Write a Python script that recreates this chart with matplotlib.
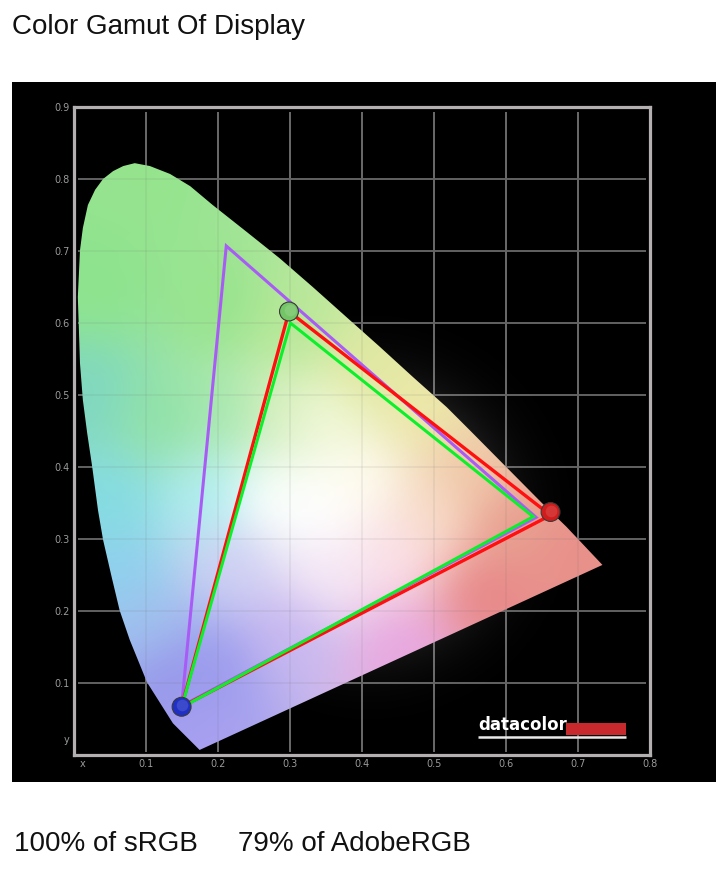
import numpy as np
import matplotlib
matplotlib.use("Agg")
import matplotlib.pyplot as plt
from matplotlib.colors import to_rgb
from matplotlib.patches import Polygon, Rectangle

W, H = 723, 873

locus_x = [0.175, 0.138, 0.102, 0.078, 0.064, 0.053, 0.041, 0.034, 0.026, 0.019, 0.013, 0.009, 0.006, 0.009, 0.013,
           0.020, 0.030, 0.041, 0.055, 0.069, 0.085, 0.106, 0.134, 0.162, 0.193, 0.241, 0.286, 0.332, 0.379,
           0.425, 0.471, 0.518, 0.550, 0.650, 0.684, 0.734]
locus_y = [0.007, 0.044, 0.101, 0.160, 0.201, 0.247, 0.299, 0.340, 0.400, 0.447, 0.493, 0.544, 0.636, 0.701, 0.732,
           0.764, 0.785, 0.800, 0.811, 0.818, 0.822, 0.818, 0.807, 0.790, 0.764, 0.726, 0.690, 0.650, 0.608,
           0.567, 0.525, 0.483, 0.451, 0.350, 0.317, 0.264]

adobe_x = [0.212, 0.642, 0.150]
adobe_y = [0.707, 0.330, 0.068]
srgb_x = [0.301, 0.638, 0.150]
srgb_y = [0.600, 0.331, 0.066]
display_x = [0.299, 0.662, 0.150]
display_y = [0.616, 0.333, 0.067]

marker_x = [0.299, 0.662, 0.150]
marker_y = [0.616, 0.3375, 0.067]
marker_colors = ["#74c566", "#d01c1c", "#2030c4"]

x_tick_pos = [0.012, 0.1, 0.2, 0.3, 0.4, 0.5, 0.6, 0.7, 0.8]
x_tick_labels = ["x", "0.1", "0.2", "0.3", "0.4", "0.5", "0.6", "0.7", "0.8"]
y_tick_pos = [0.022, 0.1, 0.2, 0.3, 0.4, 0.5, 0.6, 0.7, 0.8, 0.9]
y_tick_labels = ["y", "0.1", "0.2", "0.3", "0.4", "0.5", "0.6", "0.7", "0.8", "0.9"]

# colours read at places inside the horseshoe
wash_x = [0.085, 0.03, 0.20, 0.12, 0.02, 0.05, 0.06, 0.09, 0.13, 0.175, 0.19, 0.21, 0.28, 0.34, 0.27, 0.39, 0.48, 0.40,
          0.30, 0.35, 0.55, 0.60, 0.70, 0.57, 0.46, 0.30, 0.19, 0.22, 0.35, 0.45, 0.50]
wash_y = [0.79, 0.65, 0.62, 0.47, 0.50, 0.35, 0.25, 0.18, 0.10, 0.03, 0.355, 0.48, 0.48, 0.34, 0.35, 0.38, 0.483, 0.53,
          0.59, 0.47, 0.39, 0.32, 0.28, 0.225, 0.146, 0.17, 0.12, 0.27, 0.25, 0.28, 0.33]
wash_c = ["#96e48e", "#8ee48e", "#98e48e", "#92e2a8", "#80d8c0", "#85dce2", "#90d0ee", "#a0c0ee", "#9898ea", "#a8a0f0",
          "#b0eef0", "#a8e8b0", "#d8f0c0", "#ffffff", "#fbfffb", "#fffcf0", "#ece8a8", "#e0e8a0", "#b8e898", "#f0f8d8",
          "#f0c8a8", "#e8a090", "#e8908a", "#e88888", "#e8a8e0", "#c8b8f0", "#9c9cee", "#d0d0f4", "#f6e8f6", "#fbe0e8",
          "#f8dcc8"]

fig = plt.figure(figsize=(W / 100, H / 100), dpi=100, facecolor="white")
plt.rcParams["font.family"] = ["Liberation Sans", "DejaVu Sans"]

# black panel
panel = fig.add_axes([12 / W, 1 - 782 / H, (716 - 12) / W, (782 - 82) / H])
panel.set_facecolor("black")
panel.set_xticks([])
panel.set_yticks([])
for s in panel.spines.values():
    s.set_visible(False)

L, R, T, B = 73.5, 650, 107, 755
ax = fig.add_axes([L / W, 1 - B / H, (R - L) / W, (B - T) / H])
ax.set_xlim(0, 0.8)
ax.set_ylim(0, 0.9)
ax.patch.set_alpha(0)

gx, gy = np.meshgrid(np.linspace(0, 0.8, 400), np.linspace(0, 0.9, 450))

# grey glow round the white point, spills on the black
d2 = (gx - 0.41) ** 2 + (gy - 0.33) ** 2
glow = np.zeros(gx.shape + (4,))
glow[..., :3] = 1
glow[..., 3] = 0.62 * np.exp(-d2 / (2 * 0.095 ** 2))
ax.imshow(glow, extent=[0, 0.8, 0, 0.9], origin="lower", aspect="auto", zorder=3)

ax.vlines(x_tick_pos[1:8], 0.004, 0.893, color="#6a6a6a", lw=1.4, zorder=2)
ax.hlines(y_tick_pos[1:9], 0.006, 0.795, color="#626262", lw=1.4, zorder=2)

# colour wash inside the locus
wx = np.array(wash_x)[:, None, None]
wy = np.array(wash_y)[:, None, None]
wc = np.array([to_rgb(c) for c in wash_c])
dist = (gx - wx) ** 2 + (gy - wy) ** 2 + 1e-5
weights = dist ** -2.0
rgb = (weights[..., None] * wc[:, None, None, :]).sum(axis=0) / weights.sum(axis=0)[..., None]
# soften the field
kernel = np.exp(-np.arange(-40, 41) ** 2 / (2 * 14.0 ** 2))
kernel /= kernel.sum()
pad = np.pad(rgb, ((40, 40), (40, 40), (0, 0)), mode="edge")
for axis in (0, 1):
    pad = np.apply_along_axis(lambda v: np.convolve(v, kernel, mode="same"), axis, pad)
rgb = pad[40:-40, 40:-40]

locus = Polygon(np.column_stack([locus_x, locus_y]), closed=True, transform=ax.transData, fc="none", ec="none")
ax.add_patch(locus)
im = ax.imshow(rgb, extent=[0, 0.8, 0, 0.9], origin="lower", aspect="auto", zorder=4, interpolation="bilinear")
im.set_clip_path(locus)

# grid shows faintly through the colours
for line_set in [ax.vlines(x_tick_pos[1:8], 0.004, 0.893, color="#666666", lw=1.2, alpha=0.1, zorder=5),
                 ax.hlines(y_tick_pos[1:9], 0.006, 0.795, color="#666666", lw=1.2, alpha=0.1, zorder=5)]:
    line_set.set_clip_path(locus)

ax.fill(adobe_x, adobe_y, fc="none", ec="#a95cf5", lw=2.2, joinstyle="miter", zorder=6)
ax.fill(display_x, display_y, fc="none", ec="#ff0f0f", lw=2.4, joinstyle="miter", zorder=7)
ax.fill(srgb_x, srgb_y, fc="none", ec="#0cf02c", lw=2.2, joinstyle="miter", zorder=8)

ax.scatter(marker_x, marker_y, s=185, c=marker_colors, edgecolors="#3a3a3a", linewidths=0.8, zorder=9)
ax.scatter(np.array(marker_x) + 0.001, np.array(marker_y) + 0.002, s=70, c="white", alpha=0.12, linewidths=0, zorder=10)

for s in ax.spines.values():
    s.set_color("#b4b0b2")
    s.set_linewidth(2.3)
    s.set_zorder(11)
ax.set_xticks(x_tick_pos, x_tick_labels)
ax.set_yticks(y_tick_pos, y_tick_labels)
ax.tick_params(length=0, pad=3, labelcolor="#9a9a9a", labelsize=7)
for lab in ax.get_xticklabels() + ax.get_yticklabels():
    lab.set_family("DejaVu Sans")

# datacolor logo
ax.add_patch(Rectangle((0.684, 0.028), 0.083, 0.017, fc="#c8292c", ec="none", zorder=9))
ax.hlines(0.0245, 0.562, 0.767, color="#e8e8e8", lw=1.8, zorder=9)
ax.text(0.562, 0.029, "datacolor", color="white", fontsize=12, fontweight="bold", family="DejaVu Sans",
        ha="left", va="bottom", zorder=9)

fig.text(12 / W, 1 - 27 / H, "Color Gamut Of Display", fontsize=20, color="#111111", va="center", ha="left")
fig.text(14 / W, 1 - 844 / H, "100% of sRGB", fontsize=20, color="#111111", va="center", ha="left")
fig.text(238 / W, 1 - 844 / H, "79% of AdobeRGB", fontsize=20, color="#111111", va="center", ha="left")

fig.savefig("out.png", dpi=100)
